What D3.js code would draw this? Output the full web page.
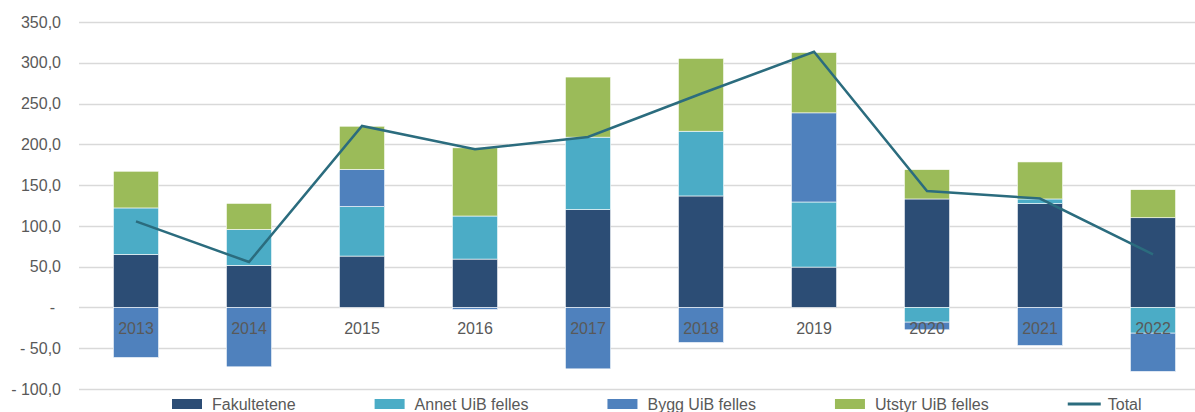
<!DOCTYPE html>
<html lang="no">
<head>
    <meta charset="UTF-8">
    <script src="https://d3js.org/d3.v7.min.js"></script>
    <title>Investeringer</title>
    <style>
        body { margin: 0; background: #fff; }
        svg text { font-family: "Liberation Sans", Arial, sans-serif; font-size: 16px; fill: #595959; }
        .grid-line { stroke: #d9d9d9; stroke-width: 1.5px; }
    </style>
</head>
<body>
    <div id="chart"></div>
    <script>
        // Data
        var years = ["2013", "2014", "2015", "2016", "2017", "2018", "2019", "2020", "2021", "2022"];
        var fakultetene = [65, 51.6, 63, 59.3, 120, 136.7, 49.5, 133, 127.3, 110];
        var annet = [57, 44, 60.7, 52.8, 88.8, 79.4, 79.8, -18, 5.7, -31.5];
        var bygg = [-61.4, -72.8, 45.5, -2.5, -75.3, -43, 109.3, -9.4, -46.7, -47];
        var utstyr = [45, 32, 53, 83.6, 73.7, 89.3, 74, 36, 45.4, 34.4];
        var total = [105.6, 55.7, 222.5, 194, 209, 262, 313.5, 142.8, 133.5, 65];
        var yTicks = [-100, -50, 0, 50, 100, 150, 200, 250, 300, 350];

        var seriesNames = ["Fakultetene", "Annet UiB felles", "Bygg UiB felles", "Utstyr UiB felles"];
        var seriesValues = [fakultetene, annet, bygg, utstyr];
        var colors = ["#2c4d75", "#4bacc6", "#4f81bd", "#9bbb59"];
        var lineColor = "#2b6c7e";

        var width = 1195, height = 412;

        var svg = d3.select("#chart")
            .append("svg")
            .attr("width", width)
            .attr("height", height);

        var x = d3.scaleBand()
            .domain(years)
            .range([79.5, 1209.5])
            .paddingInner(0.6)
            .paddingOuter(0.3);

        var y = d3.scaleLinear()
            .domain([-100, 350])
            .range([389, 22]);

        // grid lines
        svg.append("g")
            .selectAll("line")
            .data(yTicks)
            .enter().append("line")
            .attr("class", "grid-line")
            .attr("x1", 79)
            .attr("x2", width)
            .attr("y1", function (d) { return Math.round(y(d)) + 0.5; })
            .attr("y2", function (d) { return Math.round(y(d)) + 0.5; });

        // y axis labels (accounting style)
        function fmt(d) {
            if (d === 0) return "-";
            var s = d3.format(".1f")(Math.abs(d)).replace(".", ",");
            return d < 0 ? "- " + s : s;
        }
        var yAxis = svg.append("g")
            .attr("transform", "translate(79,0)")
            .call(d3.axisLeft(y).tickValues(yTicks).tickSize(0).tickPadding(18).tickFormat(fmt));
        yAxis.select(".domain").remove();
        yAxis.selectAll("text")
            .attr("fill", "#595959")
            .style("font-size", "16px")
            .style("font-family", "'Liberation Sans', Arial, sans-serif")
            .attr("dx", function (d) { return d === 0 ? -6 : 0; });

        // stacked bars
        var table = years.map(function (yr, i) {
            var row = { year: yr };
            seriesNames.forEach(function (n, k) { row[n] = seriesValues[k][i]; });
            return row;
        });
        var stack = d3.stack()
            .keys(seriesNames)
            .offset(d3.stackOffsetDiverging);
        var layers = stack(table);

        svg.append("g")
            .selectAll("g")
            .data(layers)
            .enter().append("g")
            .attr("fill", function (d, i) { return colors[i]; })
            .selectAll("rect")
            .data(function (d) { return d; })
            .enter().append("rect")
            .attr("x", function (d) { return x(d.data.year); })
            .attr("width", x.bandwidth())
            .attr("y", function (d) { return y(Math.max(d[0], d[1])); })
            .attr("height", function (d) { return Math.abs(y(d[0]) - y(d[1])); })
            .attr("stroke", "#fff")
            .attr("stroke-width", 0.6);

        // x axis labels on top of bars
        var xAxis = svg.append("g")
            .attr("transform", "translate(0," + y(0) + ")")
            .call(d3.axisBottom(x).tickSize(0).tickPadding(15));
        xAxis.select(".domain").remove();
        xAxis.selectAll("text")
            .attr("fill", "#595959")
            .style("font-size", "16px")
            .style("font-family", "'Liberation Sans', Arial, sans-serif");

        // total line
        var line = d3.line()
            .x(function (d, i) { return x(years[i]) + x.bandwidth() / 2; })
            .y(function (d) { return y(d); });
        svg.append("path")
            .datum(total)
            .attr("d", line)
            .attr("fill", "none")
            .attr("stroke", lineColor)
            .attr("stroke-width", 2.5);

        // legend
        var legend = svg.append("g");
        var lx = 172;
        var items = seriesNames.concat(["Total"]);
        items.forEach(function (name, i) {
            var g = legend.append("g");
            if (i < seriesNames.length) {
                g.append("rect")
                    .attr("x", lx).attr("y", 399)
                    .attr("width", 30).attr("height", 10)
                    .attr("fill", colors[i]);
            } else {
                g.append("line")
                    .attr("x1", lx).attr("x2", lx + 33)
                    .attr("y1", 404).attr("y2", 404)
                    .attr("stroke", lineColor)
                    .attr("stroke-width", 3);
            }
            var t = g.append("text")
                .attr("x", lx + 40)
                .attr("y", 409.5)
                .text(name);
            lx = lx + 40 + t.node().getComputedTextLength() + 79;
        });
    </script>
</body>
</html>
